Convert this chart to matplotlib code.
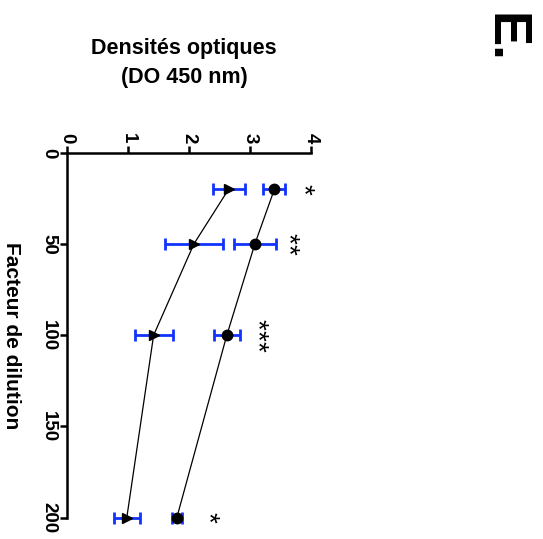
import matplotlib
matplotlib.use("Agg")
import matplotlib.pyplot as plt

plt.rcParams['font.family'] = ['Liberation Sans', 'DejaVu Sans']
plt.rcParams['font.weight'] = 'bold'

dilution = [20, 50, 100, 200]
od_circle = [3.40, 3.08, 2.62, 1.80]
sem_circle = [0.18, 0.35, 0.21, 0.08]
od_triangle = [2.65, 2.08, 1.42, 0.98]
sem_triangle = [0.26, 0.47, 0.31, 0.21]
stars = ["*", "**", "***", "*"]
star_od = [3.86, 3.61, 3.11, 2.30]
od_ticks = [0, 1, 2, 3, 4]
dil_ticks = [0, 50, 100, 150, 200]

fig = plt.figure(figsize=(5.43, 5.39), dpi=100)
ax = fig.add_axes([67/543, 21.3/539, 244/543, 365/539])

blue = '#1133ff'
for od, sem, mk in [(od_circle, sem_circle, 'o'), (od_triangle, sem_triangle, '>')]:
    ax.plot(od, dilution, color='black', lw=0.9, zorder=2, clip_on=False)
    ax.errorbar(od, dilution, xerr=sem, fmt='none', ecolor=blue, elinewidth=2,
                capsize=4.5, capthick=2, zorder=3, clip_on=False)
    ax.plot(od, dilution, marker=mk, ls='none', color='black', ms=7.5, zorder=4, clip_on=False)

step = 6.2
for s, x, y in zip(stars, star_od, dilution):
    n = len(s)
    for i in range(n):
        ax.text(x, y + (i - (n - 1) / 2) * step, "*", rotation=270, ha='center', va='center',
                fontsize=20, fontweight='normal', rotation_mode='anchor')

ax.set_xlim(0, 4)
ax.set_ylim(200, 0)
ax.xaxis.set_ticks_position('top')
ax.set_xticks(od_ticks)
ax.set_yticks(dil_ticks)
ax.set_xticklabels([str(t) for t in od_ticks], rotation=270, fontsize=13.5, fontweight='bold')
ax.set_yticklabels([str(t) for t in dil_ticks], rotation=270, fontsize=13.5, fontweight='bold', va='center')
ax.tick_params(axis='both', length=5, width=1.8, pad=2)
for sp in ['right', 'bottom']:
    ax.spines[sp].set_visible(False)
for sp in ['left', 'top']:
    ax.spines[sp].set_linewidth(1.8)

ax.set_ylabel("Facteur de dilution", rotation=270, fontsize=15, fontweight='bold')
ax.yaxis.set_label_coords(-0.268, 0.5)

fig.text(184/543, 1 - 63/539, "Densités optiques\n(DO 450 nm)", ha='center', va='center',
         fontsize=15.5, fontweight='bold', linespacing=1.45)
fig.text(505/543, 1 - 38/539, "E.", rotation=270, ha='center', va='center',
         fontsize=38, fontweight='bold')

fig.savefig("out.png", dpi=100)
